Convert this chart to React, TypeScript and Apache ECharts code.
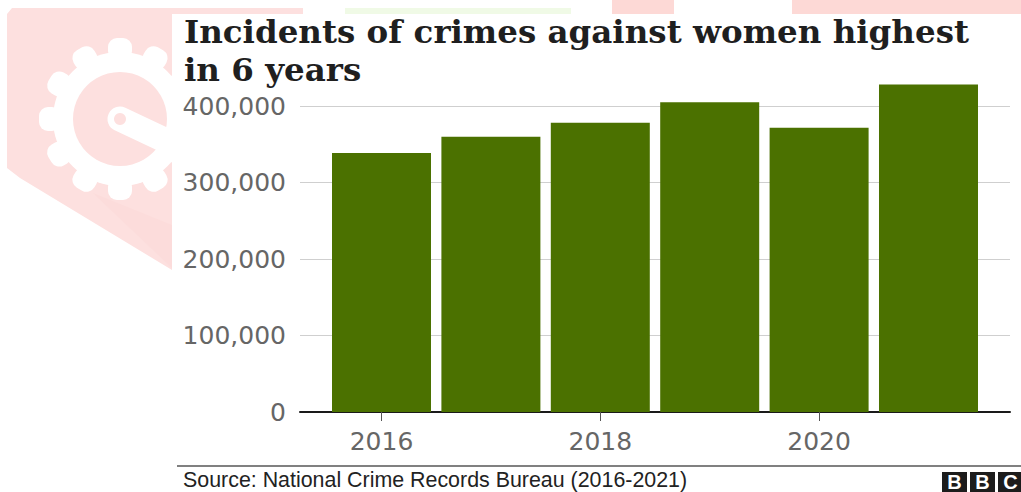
import React, { useEffect, useRef } from "react";
import * as echarts from "echarts";

const years = [2016, 2017, 2018, 2019, 2020, 2021];
const incidents = [338600, 359800, 378000, 405000, 371500, 428000];
const yTicks = [0, 100000, 200000, 300000, 400000];
const xLabels = [2016, 2018, 2020];
const titleLines = ["Incidents of crimes against women highest", "in 6 years"];
const sourceText = "Source: National Crime Records Bureau (2016-2021)";
const logoLetters = ["B", "B", "C"];
const toothAngles = [0, 30, 60, 90, 120, 150, 180, 210, 240, 270, 300, 330];

const PINK = "#fde0df";
const PINK_DARK = "#fcdcdb";

// Faint stamp behind the chart: a tag shape with a cog and key, masked by a white panel.
function backdrop(): any[] {
  const cx = 120;
  const cy = 119;
  const els: any[] = [
    { type: "polygon", shape: { points: [[12, 8], [303, 8], [303, 14], [172, 14], [172, 270], [20, 178], [7, 168], [7, 14]] }, style: { fill: PINK } },
    { type: "polygon", shape: { points: [[93, 193], [172, 225], [172, 268]] }, style: { fill: PINK_DARK } },
    { type: "circle", shape: { cx, cy, r: 67 }, style: { fill: "#fff" } },
  ];
  toothAngles.forEach((deg) => {
    els.push({
      type: "rect",
      x: cx,
      y: cy,
      rotation: (deg * Math.PI) / 180,
      shape: { x: -12, y: -81, width: 24, height: 22, r: 9 },
      style: { fill: "#fff" },
    });
  });
  els.push(
    { type: "circle", shape: { cx, cy, r: 47 }, style: { fill: PINK } },
    { type: "line", shape: { x1: cx, y1: cy, x2: 190, y2: 152 }, style: { stroke: "#fff", lineWidth: 25, lineCap: "round" } },
    { type: "circle", shape: { cx, cy, r: 6 }, style: { fill: PINK } },
    { type: "rect", shape: { x: 172, y: 14, width: 849, height: 478 }, style: { fill: "#fff" } },
    { type: "rect", shape: { x: 345, y: 8, width: 226, height: 6 }, style: { fill: "#f0fae6" } },
    { type: "rect", shape: { x: 612, y: 0, width: 62, height: 14 }, style: { fill: "#fdd9d6" } },
    { type: "rect", shape: { x: 792, y: 0, width: 229, height: 14 }, style: { fill: "#fdd9d6" } },
  );
  return els;
}

function bbcLogo(): any[] {
  const lefts = [942, 970, 998];
  const els: any[] = [];
  logoLetters.forEach((letter, i) => {
    els.push(
      { type: "rect", shape: { x: lefts[i], y: 472, width: 25, height: 20 }, style: { fill: "#1c1c1c" } },
      {
        type: "text",
        x: lefts[i] + 12.5,
        y: 482,
        style: {
          text: letter,
          fill: "#fff",
          font: "bold 20px 'Liberation Sans'",
          align: "center",
          verticalAlign: "middle",
        },
      },
    );
  });
  return els;
}

export default function App() {
  const ref = useRef<HTMLDivElement>(null);

  useEffect(() => {
    document.body.style.margin = "0";
    const chart = echarts.init(ref.current!, undefined, { renderer: "svg" });
    chart.setOption({
      animation: false,
      backgroundColor: "#fff",
      graphic: [
        { type: "group", z: -10, silent: true, children: backdrop() },
        {
          type: "group",
          z: 10,
          silent: true,
          children: [
            {
              type: "line",
              shape: { x1: 177, y1: 466, x2: 1021, y2: 466 },
              style: { stroke: "#808080", lineWidth: 2 },
            },
            {
              type: "text",
              x: 183,
              y: 480,
              style: {
                text: sourceText,
                fill: "#222",
                font: "21.4px 'Liberation Sans'",
                verticalAlign: "middle",
              },
            },
            ...bbcLogo(),
          ],
        },
      ],
      title: {
        text: titleLines.join("\n"),
        left: 179,
        top: 7,
        textStyle: {
          fontFamily: "'DejaVu Serif'",
          fontWeight: "bold",
          fontSize: 32.5,
          lineHeight: 38,
          color: "#1f1f1f",
        },
      },
      grid: { left: 300, right: 11, top: 106, height: 306 },
      xAxis: {
        type: "value",
        min: 2015.255,
        max: 2021.745,
        splitLine: { show: false },
        axisLine: { show: true, onZero: false, lineStyle: { color: "#1a1a1a", width: 2 } },
        axisTick: { show: true, customValues: xLabels, length: 9, lineStyle: { color: "#555", width: 1 } },
        axisLabel: {
          customValues: xLabels,
          formatter: (v: number) => String(v),
          color: "#666",
          fontFamily: "'DejaVu Sans'",
          fontSize: 25,
          margin: 17,
        },
      },
      yAxis: {
        type: "value",
        min: 0,
        max: 400000,
        interval: 100000,
        axisLine: { show: false },
        axisTick: { show: false },
        splitLine: { show: true, lineStyle: { color: "#cfcfcf", width: 1 } },
        axisLabel: {
          color: "#666",
          fontFamily: "'DejaVu Sans'",
          fontSize: 25,
          margin: 14,
          formatter: (v: number) => (yTicks.includes(v) ? v.toLocaleString("en-US") : ""),
        },
      },
      series: [
        {
          type: "bar",
          clip: false,
          barWidth: 99,
          itemStyle: { color: "#4b7100" },
          data: years.map((y, i) => [y, incidents[i]]),
        },
      ],
    });
    return () => chart.dispose();
  }, []);

  return <div ref={ref} style={{ width: 1021, height: 492 }} />;
}
